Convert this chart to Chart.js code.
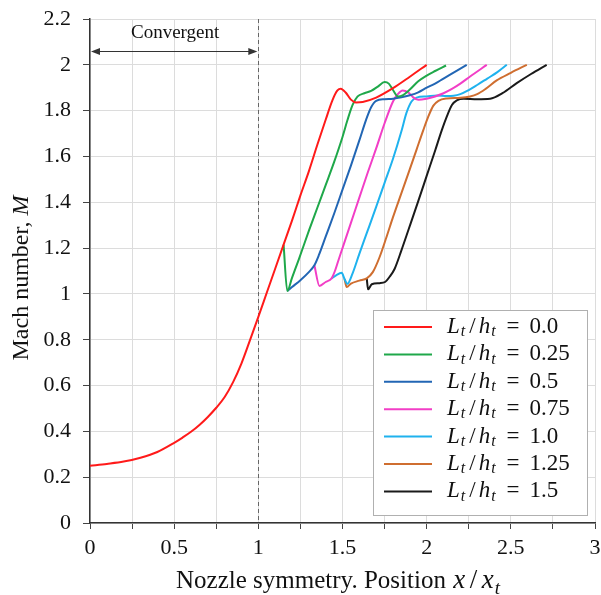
<!DOCTYPE html>
<html><head><meta charset="utf-8">
<script src="https://cdn.jsdelivr.net/npm/chart.js@4.4.0/dist/chart.umd.min.js"></script>
<style>html,body{margin:0;padding:0;background:#fff;}#wrap{width:601px;height:595px;position:relative;}</style>
</head><body><div id="wrap"><canvas id="c" width="601" height="595"></canvas></div>
<script>
// ---- data ----
const ratios = ['0.0', '0.25', '0.5', '0.75', '1.0', '1.25', '1.5'];
const colors = ['#ff1a1a', '#1fa84a', '#2266b4', '#f23ec6', '#1fb2ee', '#cf6e30', '#1a1a1a'];

const x00 = [0, 0.1, 0.2, 0.3, 0.4, 0.5, 0.55, 0.6, 0.65, 0.7, 0.75, 0.8, 0.85, 0.9, 0.95, 1.0, 1.05, 1.1, 1.15, 1.2, 1.25, 1.3, 1.35, 1.4, 1.44, 1.47, 1.49, 1.52, 1.55, 1.58, 1.62, 1.7, 1.8, 1.9, 2.0];
const y00 = [0.25, 0.258, 0.268, 0.285, 0.31, 0.35, 0.373, 0.398, 0.428, 0.463, 0.503, 0.55, 0.615, 0.697, 0.797, 0.90, 1.005, 1.11, 1.215, 1.32, 1.43, 1.535, 1.65, 1.76, 1.845, 1.888, 1.896, 1.878, 1.848, 1.836, 1.838, 1.857, 1.898, 1.948, 2.0];

const x25 = [1.15, 1.172, 1.2, 1.24, 1.3, 1.35, 1.4, 1.45, 1.5, 1.53, 1.56, 1.59, 1.63, 1.67, 1.71, 1.75, 1.775, 1.8, 1.83, 1.86, 1.9, 1.95, 2.0, 2.05, 2.115];
const y25 = [1.215, 1.013, 1.07, 1.15, 1.275, 1.375, 1.475, 1.575, 1.685, 1.76, 1.825, 1.862, 1.876, 1.886, 1.905, 1.925, 1.918, 1.89, 1.862, 1.868, 1.892, 1.928, 1.953, 1.973, 1.997];

const x50 = [1.172, 1.2, 1.25, 1.3, 1.333, 1.36, 1.4, 1.45, 1.5, 1.55, 1.6, 1.64, 1.67, 1.7, 1.75, 1.8, 1.85, 1.9, 1.95, 2.0, 2.05, 2.1, 2.17, 2.238];
const y50 = [1.013, 1.03, 1.06, 1.095, 1.125, 1.17, 1.25, 1.35, 1.455, 1.56, 1.67, 1.76, 1.815, 1.843, 1.85, 1.852, 1.858, 1.867, 1.88, 1.9, 1.918, 1.94, 1.97, 2.0];

const x75 = [1.333, 1.363, 1.4, 1.435, 1.455, 1.475, 1.5, 1.55, 1.6, 1.65, 1.7, 1.75, 1.8, 1.83, 1.857, 1.89, 1.92, 1.951, 2.0, 2.05, 2.1, 2.15, 2.2, 2.258, 2.357];
const y75 = [1.125, 1.035, 1.052, 1.068, 1.10, 1.145, 1.2, 1.31, 1.42, 1.53, 1.635, 1.745, 1.84, 1.873, 1.888, 1.88, 1.858, 1.847, 1.852, 1.862, 1.876, 1.895, 1.918, 1.949, 2.0];

const x100 = [1.435, 1.46, 1.495, 1.512, 1.529, 1.56, 1.6, 1.644, 1.7, 1.75, 1.8, 1.85, 1.88, 1.91, 1.94, 2.0, 2.06, 2.12, 2.16, 2.2, 2.25, 2.3, 2.36, 2.42, 2.476];
const y100 = [1.068, 1.08, 1.092, 1.065, 1.044, 1.09, 1.175, 1.265, 1.38, 1.485, 1.59, 1.71, 1.79, 1.84, 1.857, 1.862, 1.866, 1.864, 1.865, 1.872, 1.89, 1.912, 1.94, 1.968, 2.0];

const x125 = [1.512, 1.525, 1.55, 1.6, 1.644, 1.68, 1.72, 1.76, 1.8, 1.85, 1.9, 1.94, 1.98, 2.01, 2.04, 2.07, 2.12, 2.2, 2.258, 2.3, 2.35, 2.416, 2.5, 2.595];
const y125 = [1.065, 1.03, 1.045, 1.058, 1.068, 1.095, 1.16, 1.245, 1.335, 1.44, 1.545, 1.63, 1.715, 1.775, 1.822, 1.843, 1.853, 1.856, 1.862, 1.872, 1.895, 1.932, 1.965, 2.0];

const x150 = [1.644, 1.652, 1.674, 1.72, 1.753, 1.78, 1.81, 1.85, 1.892, 1.95, 2.0, 2.05, 2.09, 2.12, 2.15, 2.179, 2.22, 2.3, 2.377, 2.45, 2.535, 2.62, 2.713];
const y150 = [1.068, 1.02, 1.042, 1.047, 1.052, 1.075, 1.11, 1.19, 1.28, 1.405, 1.515, 1.625, 1.715, 1.775, 1.825, 1.845, 1.852, 1.85, 1.852, 1.876, 1.92, 1.96, 2.0];

const seriesX = [x00, x25, x50, x75, x100, x125, x150];
const seriesY = [y00, y25, y50, y75, y100, y125, y150];

const SERIF = '"Liberation Serif", "Times New Roman", serif';

function runFont(r) {
  return (r.it ? 'italic ' : '') + r.s + 'px ' + SERIF;
}
function measureRuns(ctx, runs) {
  let w = 0;
  runs.forEach(r => { ctx.font = runFont(r); r.w = ctx.measureText(r.t).width; w += r.w + (r.gap || 0); });
  return w;
}
function drawRuns(ctx, runs, x, y, center) {
  const w = measureRuns(ctx, runs);
  let cx = center ? x - w / 2 : x;
  runs.forEach(r => {
    ctx.font = runFont(r);
    cx += (r.gap || 0) / 2;
    ctx.fillText(r.t, cx, y + (r.dy || 0));
    cx += r.w + (r.gap || 0) / 2;
  });
}

const deco = {
  id: 'deco',
  beforeDatasetsDraw(chart) {
    const ctx = chart.ctx, xs = chart.scales.x, ys = chart.scales.y;
    const px = xs.getPixelForValue(1);
    ctx.save();
    ctx.strokeStyle = '#666';
    ctx.lineWidth = 1;
    ctx.setLineDash([4, 3]);
    ctx.beginPath();
    ctx.moveTo(Math.round(px) + 0.5, ys.getPixelForValue(2.2));
    ctx.lineTo(Math.round(px) + 0.5, ys.getPixelForValue(0));
    ctx.stroke();
    ctx.restore();
  },
  afterDraw(chart) {
    const ctx = chart.ctx, xs = chart.scales.x, ys = chart.scales.y;
    ctx.save();
    // convergent arrow
    const ax0 = xs.getPixelForValue(0) + 1, ax1 = xs.getPixelForValue(1) - 1;
    const ay = Math.round(ys.getPixelForValue(2.06)) + 0.5;
    ctx.strokeStyle = '#333'; ctx.fillStyle = '#333'; ctx.lineWidth = 1;
    ctx.beginPath(); ctx.moveTo(ax0 + 6, ay); ctx.lineTo(ax1 - 6, ay); ctx.stroke();
    ctx.beginPath(); ctx.moveTo(ax0, ay); ctx.lineTo(ax0 + 9, ay - 3.5); ctx.lineTo(ax0 + 9, ay + 3.5); ctx.closePath(); ctx.fill();
    ctx.beginPath(); ctx.moveTo(ax1, ay); ctx.lineTo(ax1 - 9, ay - 3.5); ctx.lineTo(ax1 - 9, ay + 3.5); ctx.closePath(); ctx.fill();
    ctx.fillStyle = '#111';
    ctx.textBaseline = 'middle';
    ctx.textAlign = 'left';
    drawRuns(ctx, [{t: 'Convergent', s: 19}], xs.getPixelForValue(0.5) + 1, ay - 18, true);

    // legend
    const lx = 373, ly = 310, lw = 214, lh = 205;
    ctx.fillStyle = '#fff';
    ctx.fillRect(lx, ly, lw, lh);
    ctx.strokeStyle = '#b0b0b0'; ctx.lineWidth = 1;
    ctx.strokeRect(lx + 0.5, ly + 0.5, lw, lh);
    chart.data.datasets.forEach((ds, i) => {
      const cy = ly + 17 + i * 27.4;
      ctx.strokeStyle = ds.borderColor; ctx.lineWidth = 2;
      ctx.beginPath(); ctx.moveTo(384, cy); ctx.lineTo(432, cy); ctx.stroke();
      ctx.fillStyle = '#111';
      drawRuns(ctx, [
        {t: 'L', it: 1, s: 23},
        {t: 't', it: 1, s: 16, dy: 5, gap: 2},
        {t: '/', s: 23, gap: 6},
        {t: 'h', it: 1, s: 23},
        {t: 't', it: 1, s: 16, dy: 5, gap: 2},
        {t: '=', s: 23, gap: 20},
        {t: ratios[i], s: 23}
      ], 447, cy, false);
    });

    // axis titles
    ctx.fillStyle = '#111';
    ctx.save();
    ctx.translate(22, (ys.top + ys.bottom) / 2 + 7);
    ctx.rotate(-Math.PI / 2);
    drawRuns(ctx, [{t: 'Mach number, ', s: 24}, {t: 'M', it: 1, s: 24}], 0, 0, true);
    ctx.restore();
    ctx.textBaseline = 'alphabetic';
    drawRuns(ctx, [
      {t: 'Nozzle symmetry. Position ', s: 25},
      {t: 'x', it: 1, s: 27, gap: 2},
      {t: '/', s: 27, gap: 7},
      {t: 'x', it: 1, s: 27, gap: 2},
      {t: 't', it: 1, s: 19, dy: 6}
    ], 338, 588, true);
    ctx.restore();
  }
};

const datasets = ratios.map((r, i) => ({
  label: 'L_t/h_t = ' + r,
  data: seriesX[i].map((x, k) => ({x: x, y: seriesY[i][k]})),
  borderColor: colors[i],
  backgroundColor: colors[i],
  borderWidth: 2,
  pointRadius: 0,
  fill: false,
  cubicInterpolationMode: 'monotone'
}));

const tickFont = {family: SERIF, size: 22};

new Chart(document.getElementById('c'), {
  type: 'line',
  data: {datasets},
  options: {
    responsive: false,
    animation: false,
    devicePixelRatio: 1,
    layout: {padding: {top: 19, right: 6, bottom: 0, left: 0}},
    plugins: {legend: {display: false}, tooltip: {enabled: false}},
    scales: {
      x: {
        type: 'linear', min: 0, max: 3,
        afterFit(s) { s.height = 72; s.paddingLeft = 0; s.paddingRight = 0; },
        ticks: {
          stepSize: 0.25, autoSkip: false, maxRotation: 0, padding: 6,
          color: '#111', font: tickFont,
          callback(v) { return Math.abs(v * 2 - Math.round(v * 2)) < 1e-6 ? String(Math.round(v * 2) / 2) : ''; }
        },
        grid: {color: '#dcdcdc', lineWidth: 1, tickColor: '#444', tickLength: 6},
        border: {color: '#333', width: 1.5}
      },
      y: {
        min: 0, max: 2.2,
        afterFit(s) { s.width = 90; s.paddingTop = 0; s.paddingBottom = 0; },
        ticks: {
          stepSize: 0.2, padding: 12, color: '#111', font: tickFont,
          callback(v) { return String(Math.round(v * 10) / 10); }
        },
        grid: {color: '#dcdcdc', lineWidth: 1, tickColor: '#444', tickLength: 7},
        border: {color: '#333', width: 1.5}
      }
    }
  },
  plugins: [deco]
});
</script></body></html>
